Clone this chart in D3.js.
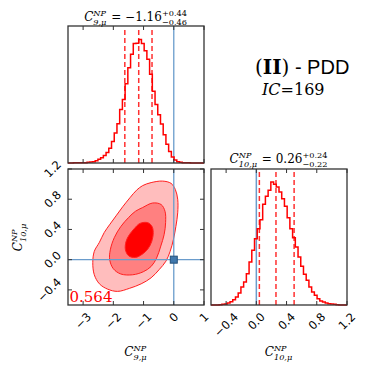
<!DOCTYPE html>
<html>
<head>
<meta charset="utf-8">
<script src="https://cdn.jsdelivr.net/npm/d3@7"></script>
<style>
  body { margin: 0; background: #fff; }
  svg { display: block; }
</style>
</head>
<body>
<div id="chart"></div>
<script>
// posterior of C9 / C10 (NP)

// histogram of C9 : 50 bins over [-3.5, 1.0]
const c9Range = [-3.5, 1.0];
const c9Counts = [0, 0, 0.5, 0.5, 1, 1, 1, 2, 3, 4,
  7, 11, 16, 22, 31, 44, 64, 89, 117, 159,
  189, 236, 284, 324, 356, 357, 368, 356, 334, 309,
  264, 214, 174, 144, 116, 84, 56, 34, 18, 9,
  4, 2, 1, 0.5, 0.5, 0, 0, 0, 0, 0];
const c9Quantiles = [-1.62, -1.16, -0.72];

// histogram of C10 : 50 bins over [-0.6, 1.2]
const c10Range = [-0.6, 1.2];
const c10Counts = [0, 0, 0, 1, 2, 3, 6, 10, 16, 24,
  36, 54, 69, 94, 129, 164, 199, 229, 256, 302,
  326, 344, 369, 362, 354, 339, 319, 296, 262, 229,
  202, 174, 144, 116, 92, 74, 54, 39, 29, 19,
  12, 9, 6, 4, 3, 2, 1, 0, 0, 0];
const c10Quantiles = [0.04, 0.26, 0.50];

// credible contours (C9, C10)
const contour3 = [[-1.03, 0.98], [-0.75, 1.02], [-0.37, 1.04], [-0.09, 1.01], [0.05, 0.93],
  [0.13, 0.80], [0.13, 0.62], [0.07, 0.44], [-0.01, 0.27], [-0.12, 0.11], [-0.26, -0.02],
  [-0.48, -0.13], [-0.75, -0.24], [-1.08, -0.32], [-1.47, -0.38], [-1.86, -0.42],
  [-2.19, -0.39], [-2.46, -0.32], [-2.63, -0.20], [-2.68, -0.04], [-2.63, 0.11],
  [-2.46, 0.23], [-2.30, 0.36], [-2.11, 0.47], [-1.91, 0.58], [-1.69, 0.70],
  [-1.45, 0.82], [-1.23, 0.92]];
const contour2 = [[-1.03, 0.69], [-0.70, 0.75], [-0.42, 0.73], [-0.29, 0.64], [-0.27, 0.49],
  [-0.32, 0.33], [-0.43, 0.18], [-0.57, 0.02], [-0.75, -0.09], [-1.01, -0.16],
  [-1.36, -0.20], [-1.75, -0.19], [-2.00, -0.12], [-2.12, 0.00], [-2.10, 0.13],
  [-1.97, 0.29], [-1.75, 0.44], [-1.49, 0.56], [-1.27, 0.64]];
const contour1 = [[-1.12, 0.48], [-0.86, 0.49], [-0.72, 0.44], [-0.68, 0.36], [-0.73, 0.24],
  [-0.86, 0.14], [-1.05, 0.07], [-1.27, 0.03], [-1.49, 0.05], [-1.60, 0.13],
  [-1.58, 0.24], [-1.47, 0.33], [-1.31, 0.41]];
const contourFills = ["#ffbdbd", "#ff8080", "#ff0000"];

const smPoint = [0, 0];
const corrText = "0.564";

const c9Ticks = [-3, -2, -1, 0, 1];
const c9TickLabels = ["\u22123", "\u22122", "\u22121", "0", "1"];
const c10Ticks = [-0.4, 0.0, 0.4, 0.8, 1.2];
const c10TickLabels = ["\u22120.4", "0.0", "0.4", "0.8", "1.2"];

const W = 374, H = 374;
const mathFont = "DejaVu Serif";
const tickFont = "DejaVu Sans";
const blue = "#6a9ccc";
const frame = "#333";

const svg = d3.select("#chart").append("svg")
  .attr("width", W).attr("height", H);

// panel boxes
const pTop = { x0: 68, x1: 204, y0: 26, y1: 163 };
const p2d = { x0: 68, x1: 204, y0: 169, y1: 305 };
const pRight = { x0: 211, x1: 347, y0: 169, y1: 305 };

const x9 = d3.scaleLinear().domain([-3.5, 1]).range([p2d.x0, p2d.x1]);
const y10 = d3.scaleLinear().domain([-0.6, 1.2]).range([p2d.y1, p2d.y0]);
const x10 = d3.scaleLinear().domain([-0.6, 1.2]).range([pRight.x0, pRight.x1]);
const yTop = d3.scaleLinear().domain([0, 408]).range([pTop.y1, pTop.y0]);
const yRight = d3.scaleLinear().domain([0, 408]).range([pRight.y1, pRight.y0]);

// little helper for the mathtext-ish labels: C^{NP}_{9,mu} etc.
function mathLabel(parent, parts, size) {
  const g = parent.append("g");
  let cur = 0;
  parts.forEach(p => {
    if (p.sup !== undefined) {
      const s = g.append("text").attr("x", cur).attr("y", -size * 0.42)
        .attr("font-size", size * 0.68).attr("font-family", mathFont)
        .attr("font-style", p.italic ? "italic" : "normal").text(p.sup);
      const b = g.append("text").attr("x", cur).attr("y", size * 0.3)
        .attr("font-size", size * 0.68).attr("font-family", mathFont)
        .attr("font-style", p.italic ? "italic" : "normal").text(p.sub);
      cur += Math.max(s.node().getComputedTextLength(), b.node().getComputedTextLength()) + 1;
    } else {
      const t = g.append("text").attr("x", cur).attr("y", 0)
        .attr("font-size", size).attr("font-family", mathFont)
        .attr("font-style", p.italic ? "italic" : "normal")
        .attr("xml:space", "preserve").text(p.t);
      cur += t.node().getComputedTextLength();
    }
  });
  g.selectAll("text").attr("dx", -cur / 2);
  return g;
}

function histogram(g, counts, range, xs, ys) {
  const w = (range[1] - range[0]) / counts.length;
  const pts = counts.map((c, i) => [range[0] + i * w, c]);
  pts.push([range[1], counts[counts.length - 1]]);
  g.append("path")
    .attr("d", d3.line().x(d => xs(d[0])).y(d => ys(d[1])).curve(d3.curveStepAfter)(pts))
    .attr("fill", "none")
    .attr("stroke", "#ff0000")
    .attr("stroke-width", 1.5);
}

function boxFrame(p) {
  svg.append("rect")
    .attr("x", p.x0).attr("y", p.y0)
    .attr("width", p.x1 - p.x0).attr("height", p.y1 - p.y0)
    .attr("fill", "none").attr("stroke", frame).attr("stroke-width", 1.3);
}

function tickMarks(xs, ys, p, xt, yt) {
  const g = svg.append("g").attr("stroke", frame).attr("stroke-width", 1);
  if (xt) {
    xt.forEach(v => {
      g.append("line").attr("x1", xs(v)).attr("x2", xs(v)).attr("y1", p.y1).attr("y2", p.y1 - 4);
      g.append("line").attr("x1", xs(v)).attr("x2", xs(v)).attr("y1", p.y0).attr("y2", p.y0 + 4);
    });
  }
  if (yt) {
    yt.forEach(v => {
      g.append("line").attr("y1", ys(v)).attr("y2", ys(v)).attr("x1", p.x0).attr("x2", p.x0 + 4);
      g.append("line").attr("y1", ys(v)).attr("y2", ys(v)).attr("x1", p.x1).attr("x2", p.x1 - 4);
    });
  }
}

// rotated tick labels, bounding box hung under the axis / left of it
function xTickLabels(ticks, labels, xs, top) {
  ticks.forEach((v, i) => {
    const t = svg.append("text")
      .attr("font-family", tickFont).attr("font-size", 11.5)
      .attr("text-anchor", "middle").attr("dominant-baseline", "central")
      .text(labels[i]);
    const L = t.node().getComputedTextLength();
    const half = (L + 8) * 0.3536;
    t.attr("transform", `translate(${xs(v)},${top + half}) rotate(-45)`);
  });
}
function yTickLabels(ticks, labels, ys, right) {
  ticks.forEach((v, i) => {
    const t = svg.append("text")
      .attr("font-family", tickFont).attr("font-size", 11.5)
      .attr("text-anchor", "middle").attr("dominant-baseline", "central")
      .text(labels[i]);
    const L = t.node().getComputedTextLength();
    const half = (L + 8) * 0.3536;
    t.attr("transform", `translate(${right - half},${ys(v)}) rotate(-45)`);
  });
}

// ---------- top-left: C9 histogram ----------
const gTop = svg.append("g");
c9Quantiles.forEach(q => {
  gTop.append("line")
    .attr("x1", x9(q)).attr("x2", x9(q))
    .attr("y1", pTop.y1).attr("y2", pTop.y0 + 2)
    .attr("stroke", "#ff3030").attr("stroke-width", 1.5)
    .attr("stroke-dasharray", "5,3");
});
gTop.append("line")
  .attr("x1", x9(0)).attr("x2", x9(0)).attr("y1", pTop.y0).attr("y2", pTop.y1)
  .attr("stroke", blue).attr("stroke-width", 1.3);
histogram(gTop, c9Counts, c9Range, x9, yTop);
boxFrame(pTop);
tickMarks(x9, null, pTop, c9Ticks, null);

// ---------- 2D panel ----------
const g2 = svg.append("g");
const closed = d3.line().x(d => x9(d[0])).y(d => y10(d[1])).curve(d3.curveCatmullRomClosed);
[contour3, contour2, contour1].forEach((c, i) => {
  g2.append("path")
    .attr("d", closed(c))
    .attr("fill", contourFills[i])
    .attr("stroke", "#ff2020")
    .attr("stroke-width", 1);
});
g2.append("line")
  .attr("x1", x9(0)).attr("x2", x9(0)).attr("y1", p2d.y0).attr("y2", p2d.y1)
  .attr("stroke", blue).attr("stroke-width", 1.3);
g2.append("line")
  .attr("x1", p2d.x0).attr("x2", p2d.x1).attr("y1", y10(0)).attr("y2", y10(0))
  .attr("stroke", blue).attr("stroke-width", 1.3);
g2.append("rect")
  .attr("x", x9(smPoint[0]) - 3.5).attr("y", y10(smPoint[1]) - 3.5)
  .attr("width", 7).attr("height", 7)
  .attr("fill", "#3f78ad").attr("stroke", "#24507a").attr("stroke-width", 1);
g2.append("text")
  .attr("x", p2d.x0 + 1.5).attr("y", p2d.y1 - 3)
  .attr("font-family", mathFont).attr("font-size", 15)
  .attr("fill", "#ff0000")
  .text(corrText);
boxFrame(p2d);
tickMarks(x9, y10, p2d, c9Ticks, c10Ticks);
xTickLabels(c9Ticks, c9TickLabels, x9, p2d.y1 + 7);
yTickLabels(c10Ticks, c10TickLabels, y10, p2d.x0 - 6);

// ---------- right: C10 histogram ----------
const gR = svg.append("g");
c10Quantiles.forEach(q => {
  gR.append("line")
    .attr("x1", x10(q)).attr("x2", x10(q))
    .attr("y1", pRight.y1).attr("y2", pRight.y0 + 2)
    .attr("stroke", "#ff3030").attr("stroke-width", 1.5)
    .attr("stroke-dasharray", "5,3");
});
gR.append("line")
  .attr("x1", x10(0)).attr("x2", x10(0)).attr("y1", pRight.y0).attr("y2", pRight.y1)
  .attr("stroke", blue).attr("stroke-width", 1.5);
histogram(gR, c10Counts, c10Range, x10, yRight);
boxFrame(pRight);
tickMarks(x10, null, pRight, c10Ticks, null);
xTickLabels(c10Ticks, c10TickLabels, x10, pRight.y1 + 7);

// ---------- titles and axis labels ----------
mathLabel(svg, [{ t: "C", italic: true }, { sup: "NP", sub: "9,\u03bc", italic: true },
  { t: " = \u22121.16" }, { sup: "+0.44", sub: "\u22120.46" }], 12)
  .attr("transform", `translate(${(pTop.x0 + pTop.x1) / 2},21)`);
mathLabel(svg, [{ t: "C", italic: true }, { sup: "NP", sub: "10,\u03bc", italic: true },
  { t: " = 0.26" }, { sup: "+0.24", sub: "\u22120.22" }], 12)
  .attr("transform", `translate(${(pRight.x0 + pRight.x1) / 2},163)`);

mathLabel(svg, [{ t: "C", italic: true }, { sup: "NP", sub: "9,\u03bc", italic: true }], 12)
  .attr("transform", `translate(${(p2d.x0 + p2d.x1) / 2},356)`);
mathLabel(svg, [{ t: "C", italic: true }, { sup: "NP", sub: "10,\u03bc", italic: true }], 12)
  .attr("transform", `translate(${(pRight.x0 + pRight.x1) / 2},356)`);
mathLabel(svg, [{ t: "C", italic: true }, { sup: "NP", sub: "10,\u03bc", italic: true }], 12)
  .attr("transform", `translate(22,${(p2d.y0 + p2d.y1) / 2}) rotate(-90)`);

// model name + information criterion
const name = svg.append("text").attr("x", 255).attr("y", 74).attr("font-size", 20);
name.append("tspan").attr("font-family", mathFont).text("(");
name.append("tspan").attr("font-family", mathFont).attr("font-weight", "bold").text("II");
name.append("tspan").attr("font-family", mathFont).text(")");
name.append("tspan").attr("font-family", "Liberation Sans").attr("xml:space", "preserve").text(" - PDD");

const ic = svg.append("text").attr("x", 262).attr("y", 95).attr("font-size", 16)
  .attr("font-family", mathFont);
ic.append("tspan").attr("font-style", "italic").text("IC");
ic.append("tspan").text("=169");
</script>
</body>
</html>
